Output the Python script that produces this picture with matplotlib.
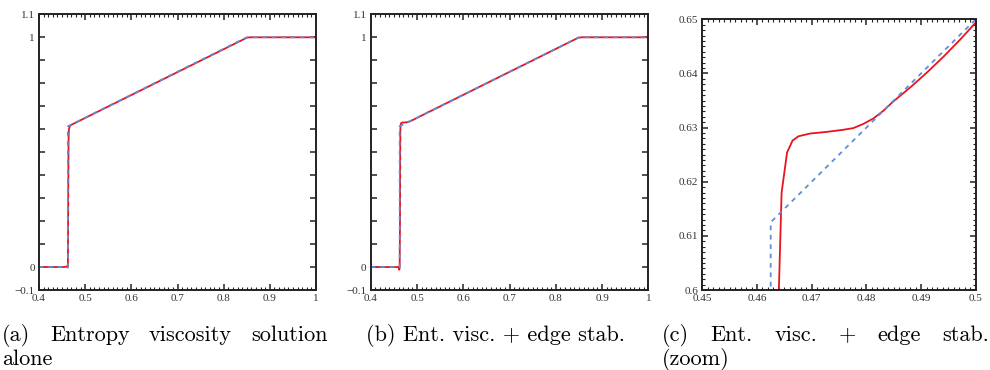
"""Exact vs. numerical solution near the shock: three panels with subfigure-style captions."""

import matplotlib

matplotlib.use("Agg")
import matplotlib.pyplot as plt
import numpy as np
from matplotlib.ticker import MultipleLocator

# exact solution (blue dashed)
exact_x = [0.4, 0.4625, 0.4625, 0.85, 1.0]
exact_y = [0.0, 0.0, 0.6125, 1.0, 1.0]

# (a) entropy viscosity alone (red)
ev_x = [0.4, 0.455, 0.4605, 0.4615, 0.4625, 0.4632, 0.4640, 0.4648, 0.4658, 0.4675, 0.470, 0.85, 0.856, 1.0]
ev_y = [0.0, 0.0, 0.003, -0.002, 0.0, 0.25, 0.55, 0.60, 0.608, 0.615, 0.619, 0.998, 1.0, 1.0]

# (b)/(c) entropy viscosity + edge stabilization (red)
es_x = [0.4, 0.455, 0.4600, 0.4615, 0.4625, 0.4632, 0.4637, 0.4640, 0.4645, 0.4655, 0.4665,
        0.4676, 0.4697, 0.4727, 0.4758, 0.4776, 0.4795, 0.4813, 0.4831, 0.4849, 0.4880,
        0.4910, 0.4941, 0.4971, 0.5000, 0.848, 0.856, 1.0]
es_y = [0.0, 0.0, 0.0, -0.012, -0.004, 0.2, 0.5, 0.600, 0.618, 0.6254, 0.6276,
        0.6284, 0.6289, 0.6292, 0.6296, 0.6299, 0.6307, 0.6317, 0.6331, 0.6348, 0.6374,
        0.6401, 0.6431, 0.6462, 0.6494, 0.9975, 1.0, 1.0]

full_yticks = [round(v, 1) for v in np.arange(-0.1, 1.15, 0.1)]
full_ylabels = ["\u22120.1", "0", "", "", "", "", "", "", "", "", "", "1", "1.1"]
full_xticks = [0.4, 0.5, 0.6, 0.7, 0.8, 0.9, 1.0]
full_xlabels = ["0.4", "0.5", "0.6", "0.7", "0.8", "0.9", "1"]
zoom_xticks = [0.45, 0.46, 0.47, 0.48, 0.49, 0.5]
zoom_xlabels = ["0.45", "0.46", "0.47", "0.48", "0.49", "0.5"]
zoom_yticks = [0.6, 0.61, 0.62, 0.63, 0.64, 0.65]
zoom_ylabels = ["0.6", "0.61", "0.62", "0.63", "0.64", "0.65"]

caption_a = ["(a)", "Entropy", "viscosity", "solution"]
caption_a2 = "alone"
caption_b = "(b) Ent. visc. + edge stab."
caption_c = ["(c)", "Ent.", "visc.", "+", "edge", "stab."]
caption_c2 = "(zoom)"

RED = "#e8141e"
BLUE = "#5b8fd8"
TICK_FONT = "Liberation Serif"
CAP_FONT = "cmr10"
CAP_SIZE = 16
W, H = 990, 370


def style_axes(ax, xticks, xlabels, yticks, ylabels, xminor, yminor=None):
    for s in ax.spines.values():
        s.set_linewidth(1.4)
        s.set_color("#222222")
    ax.set_xticks(xticks)
    ax.set_xticklabels(xlabels)
    ax.set_yticks(yticks)
    ax.set_yticklabels(ylabels)
    ax.xaxis.set_minor_locator(MultipleLocator(xminor))
    if yminor:
        ax.yaxis.set_minor_locator(MultipleLocator(yminor))
    ax.tick_params(which="both", direction="in", top=True, right=True, color="#222222")
    ax.tick_params(which="major", length=4.5, width=1.1, labelsize=8, labelcolor="#333333", pad=3)
    ax.tick_params(which="minor", length=2.2, width=0.8)
    for lbl in ax.get_xticklabels() + ax.get_yticklabels():
        lbl.set_fontfamily(TICK_FONT)


def draw(ax, num_x, num_y):
    ax.plot(num_x, num_y, color=RED, lw=1.3, solid_joinstyle="round")
    ax.plot(exact_x, exact_y, color=BLUE, lw=1.3, ls=(0, (2.6, 2.6)))


def justified(fig, words, left_px, right_px, y, **kw):
    # spread the words over [left_px, right_px] the way LaTeX justifies a line
    renderer = fig.canvas.get_renderer()
    texts = [fig.text(0, y, w, **kw) for w in words]
    widths = [t.get_window_extent(renderer).width for t in texts]
    gap = (right_px - left_px - sum(widths)) / (len(words) - 1)
    x = left_px
    for t, w in zip(texts, widths):
        t.set_x(x / W)
        x += w + gap


fig = plt.figure(figsize=(W / 100, H / 100), dpi=100)
ax_a = fig.add_axes([0.0394, 0.2162, 0.2798, 0.7451])
ax_b = fig.add_axes([0.3745, 0.2162, 0.2804, 0.7451])
ax_c = fig.add_axes([0.7094, 0.2162, 0.2762, 0.7316])

draw(ax_a, ev_x, ev_y)
draw(ax_b, es_x, es_y)
draw(ax_c, es_x, es_y)

for ax in (ax_a, ax_b):
    ax.set_xlim(0.4, 1.0)
    ax.set_ylim(-0.1, 1.1)
    style_axes(ax, full_xticks, full_xlabels, full_yticks, full_ylabels, 0.01)
ax_c.set_xlim(0.45, 0.5)
ax_c.set_ylim(0.6, 0.65)
style_axes(ax_c, zoom_xticks, zoom_xlabels, zoom_yticks, zoom_ylabels, 0.001, 0.001)

line1 = (H - 341.0) / H
line2 = (H - 365.0) / H
cap = dict(fontfamily=CAP_FONT, fontsize=CAP_SIZE, va="baseline", ha="left")
justified(fig, caption_a, 2, 328, line1, **cap)
fig.text(2 / W, line2, caption_a2, **cap)
fig.text(366 / W, line1, caption_b, **cap)
justified(fig, caption_c, 662, 989, line1, **cap)
fig.text(662 / W, line2, caption_c2, **cap)

fig.savefig("out.png", dpi=100)
